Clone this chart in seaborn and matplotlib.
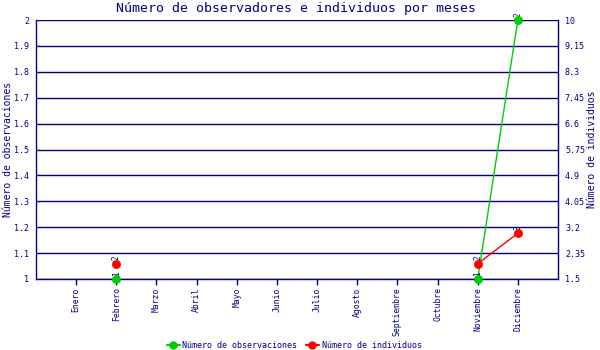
import matplotlib
matplotlib.use("Agg")
import matplotlib.pyplot as plt
from matplotlib.lines import Line2D
import seaborn as sns
import pandas as pd
import numpy as np

meses = ["Enero", "Febrero", "Marzo", "Abril", "Mayo", "Junio", "Julio",
         "Agosto", "Septiembre", "Octubre", "Noviembre", "Diciembre"]
obs_meses = ["Febrero", "Noviembre", "Diciembre"]
obs_vals = [1, 1, 2]
obs_seg = [0, 1, 1]
ind_meses = ["Febrero", "Noviembre", "Diciembre"]
ind_vals = [2, 2, 3]
ind_seg = [0, 1, 1]
left_ticks = [1, 1.1, 1.2, 1.3, 1.4, 1.5, 1.6, 1.7, 1.8, 1.9, 2]
right_ticks = [1.5, 2.35, 3.2, 4.05, 4.9, 5.75, 6.6, 7.45, 8.3, 9.15, 10]

NAVY = "#000080"
GREEN = "#00CC00"
RED = "#FF0000"

sns.set_style("white")
plt.rcParams["font.family"] = ["DejaVu Sans Mono"]

pos = {m: i + 1 for i, m in enumerate(meses)}
df_obs = pd.DataFrame({"x": [pos[m] for m in obs_meses], "y": obs_vals, "seg": obs_seg})
df_ind = pd.DataFrame({"x": [pos[m] for m in ind_meses], "y": ind_vals, "seg": ind_seg})

fig = plt.figure(figsize=(6, 3.5), dpi=100)
ax = fig.add_axes([36 / 600, 1 - 279 / 350, (558 - 36) / 600, (279 - 20) / 350])
ax2 = ax.twinx()

ax.set_xlim(0, 13)
ax.set_ylim(1, 2)
ax2.set_ylim(1.5, 10)

for t in left_ticks:
    ax.axhline(t, color=NAVY, lw=1.0, zorder=1)

sns.lineplot(data=df_obs, x="x", y="y", units="seg", estimator=None, ax=ax,
             color=GREEN, lw=1, legend=False, zorder=3)
sns.scatterplot(data=df_obs, x="x", y="y", ax=ax, color=GREEN, s=35,
                edgecolor=GREEN, legend=False, zorder=4, clip_on=False)
sns.lineplot(data=df_ind, x="x", y="y", units="seg", estimator=None, ax=ax2,
             color=RED, lw=1, legend=False, zorder=3)
sns.scatterplot(data=df_ind, x="x", y="y", ax=ax2, color=RED, s=35,
                edgecolor=RED, legend=False, zorder=4, clip_on=False)

for x, y in zip(df_obs["x"], df_obs["y"]):
    ax.annotate(f"{y:g}", (x, y), xytext=(0, 2.5), textcoords="offset points",
                rotation=90, ha="center", va="bottom", fontsize=5.5,
                color=NAVY, annotation_clip=False)
for x, y in zip(df_ind["x"], df_ind["y"]):
    ax2.annotate(f"{y:g}", (x, y), xytext=(0, 2.5), textcoords="offset points",
                 rotation=90, ha="center", va="bottom", fontsize=5.5,
                 color=NAVY, annotation_clip=False)

ax.set_xticks(range(1, 13))
ax.set_xticklabels(meses, rotation=90, fontsize=5.8, color=NAVY)
ax.set_yticks(left_ticks)
ax.set_yticklabels([f"{t:g}" for t in left_ticks], fontsize=6, color=NAVY)
ax2.set_yticks(right_ticks)
ax2.set_yticklabels([f"{t:g}" for t in right_ticks], fontsize=6, color=NAVY)

ax.tick_params(axis="x", length=4, width=1, color=NAVY, pad=2, bottom=True)
ax.tick_params(axis="y", length=0, pad=5)
ax2.tick_params(axis="y", length=0, pad=5, right=True)

ax.set_xlabel("")
ax.set_ylabel("Número de observaciones", fontsize=7, color=NAVY, va="center")
ax2.set_ylabel("Número de individuos", fontsize=7, color=NAVY, rotation=90, va="center")
ax.yaxis.set_label_coords((8 - 36) / 522, 0.5)
ax2.yaxis.set_label_coords((592 - 36) / 522, 0.5)

for a in (ax, ax2):
    for s in a.spines.values():
        s.set_visible(False)
ax.spines["left"].set_visible(True)
ax.spines["left"].set_color(NAVY)
ax.spines["bottom"].set_visible(True)
ax.spines["bottom"].set_color(NAVY)
ax2.spines["right"].set_visible(True)
ax2.spines["right"].set_color(NAVY)
for s in ("left", "bottom"):
    ax.spines[s].set_linewidth(1.0)
ax2.spines["right"].set_linewidth(1.0)

fig.suptitle("Número de observadores e individuos por meses", x=0.494, y=0.995,
             fontsize=9.5, color=NAVY, va="top")

handles = [
    Line2D([], [], color=GREEN, lw=1.5, marker="o", ms=5, label="Número de observaciones"),
    Line2D([], [], color=RED, lw=1.5, marker="o", ms=5, label="Número de individuos"),
]
leg = fig.legend(handles=handles, loc="center", bbox_to_anchor=(0.49, 1 - 345 / 350),
                 ncol=2, frameon=False, fontsize=6, handlelength=1.6,
                 handletextpad=0.3, columnspacing=1.0)
for t in leg.get_texts():
    t.set_color(NAVY)

fig.savefig("out.png", dpi=100)
